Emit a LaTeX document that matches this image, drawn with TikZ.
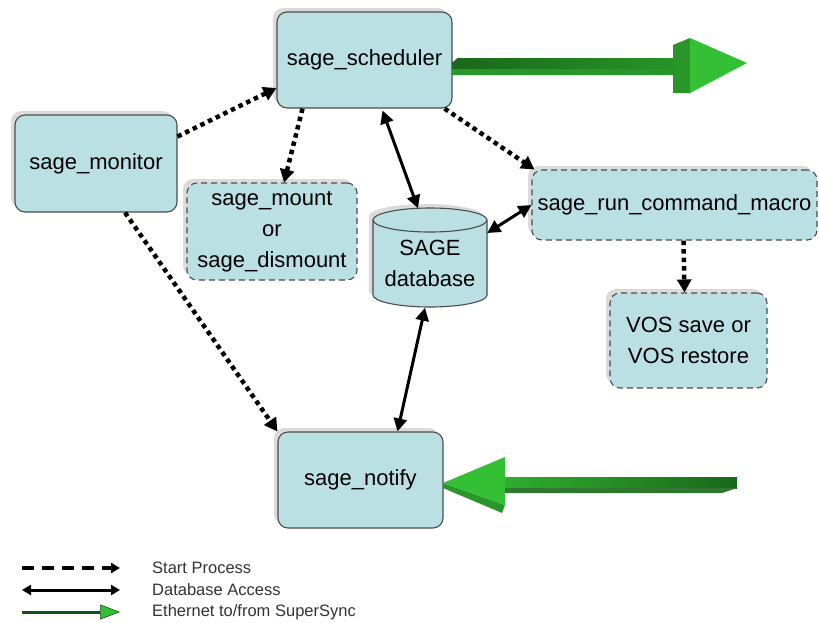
\documentclass[tikz,border=0pt]{standalone}
\usepackage{fontspec}
\setmainfont{Liberation Sans}
\usetikzlibrary{arrows.meta,shadows}
\definecolor{boxfill}{RGB}{186,224,228}
\definecolor{netdark}{RGB}{26,104,26}
\definecolor{netmid}{RGB}{40,150,40}
\definecolor{netlight}{RGB}{52,192,52}
\tikzset{
	proc/.style={draw=black!70, line width=1.1pt, fill=boxfill, rounded corners=10pt, align=center, inner sep=0pt,
		font=\fontsize{22}{31}\selectfont, drop shadow={shadow xshift=-4pt, shadow yshift=4pt, fill=black!14, opacity=1}},
	procdash/.style={proc, dash pattern=on 6pt off 4pt},
	startarrow/.style={line width=4.5pt, dash pattern=on 4.5pt off 4pt, -{Triangle[length=13pt,width=14pt]}},
	dbarrow/.style={line width=3pt, {Triangle[length=13pt,width=13pt]}-{Triangle[length=13pt,width=13pt]}},
	legendtext/.style={anchor=west, inner sep=0pt, font=\fontsize{16.5}{18}\selectfont, text=black!80}
}

\begin{document}
\begin{tikzpicture}[x=1pt, y=-1pt]
		%%%%% START %%%%%
		\useasboundingbox (0,0) rectangle (819,622);
		
		\node[proc, minimum width=162, minimum height=97] (monitor) at (96,163.5) {sage\_monitor};
		\node[proc, minimum width=175, minimum height=96] (scheduler) at (364.5,60) {sage\_scheduler};
		\node[procdash, minimum width=170, minimum height=97] (mount) at (272,231.5) {sage\_mount\\or\\sage\_dismount};
		\node[procdash, minimum width=285, minimum height=70] (run) at (674.5,205) {sage\_run\_command\_macro};
		\node[procdash, minimum width=157, minimum height=95] (vos) at (688.5,340.5) {VOS save or\\VOS restore};
		\node[proc, minimum width=165, minimum height=96] (notify) at (360.5,480) {sage\_notify};
		
		% database cylinder
		\fill[black!14] (369,216) -- (369,291) arc[start angle=180, end angle=360, x radius=57pt, y radius=12pt] -- (483,216) arc[start angle=0, end angle=180, x radius=57pt, y radius=12pt] -- cycle;
		\fill[boxfill] (373,220) -- (373,295) arc[start angle=180, end angle=360, x radius=57pt, y radius=12pt] -- (487,220) arc[start angle=0, end angle=180, x radius=57pt, y radius=12pt] -- cycle;
		\draw[black!70, line width=1.1pt] (373,220) -- (373,295) arc[start angle=180, end angle=360, x radius=57pt, y radius=12pt] -- (487,220);
		\draw[black!70, line width=1.1pt] (430,220) ellipse[x radius=57pt, y radius=12pt];
		\node[align=center, minimum width=114, minimum height=99, inner sep=0pt, font=\fontsize{22}{31}\selectfont] (db) at (430,263) {SAGE\\database};
		
		% start process
		\draw[startarrow] ([yshift=27pt]monitor.east) -- ([yshift=-28pt]scheduler.west);
		\draw[startarrow] ([xshift=-62pt]scheduler.south) -- ([xshift=12pt]mount.north);
		\draw[startarrow] ([xshift=-8pt]scheduler.south east) -- ([xshift=3pt]run.north west);
		\draw[startarrow] ([xshift=29pt]monitor.south) -- (notify.north west);
		\draw[startarrow] ([xshift=9pt]run.south) -- ([xshift=-4pt]vos.north);
		
		% database access
		\draw[dbarrow] ([xshift=18pt,yshift=-2pt]scheduler.south) -- ([xshift=-12pt,yshift=5pt]db.north);
		\draw[dbarrow] ([yshift=30pt]db.east) -- (run.west);
		\draw[dbarrow] ([xshift=-5pt,yshift=5pt]db.south) -- ([xshift=37pt]notify.north);
		
		% ethernet out
		\fill[left color=netdark, right color=netmid] (452,63) -- (458,58) -- (690,58) -- (690,69) -- (452,69) -- cycle;
		\fill[netmid] (452,69) -- (690,69) -- (682,75) -- (452,75) -- cycle;
		\fill[netmid] (673,45) -- (690,38) -- (690,93) -- (673,93) -- cycle;
		\fill[netlight] (690,38) -- (747,63) -- (690,93) -- cycle;
		
		% ethernet in
		\fill[left color=netlight!90!black, right color=netdark] (505,477) -- (737,477) -- (737,488) -- (505,488) -- cycle;
		\fill[netdark!90] (505,488) -- (737,488) -- (722,493) -- (505,493) -- cycle;
		\fill[netmid] (443,483) -- (505,505) -- (502,513) -- (443,488) -- cycle;
		\fill[netlight] (443,483) -- (505,457) -- (505,505) -- cycle;
		
		% legend
		\coordinate (sp1) at (22,568); \coordinate (sp2) at (120,568);
		\coordinate (da1) at (22,590); \coordinate (da2) at (120,590);
		\coordinate (et1) at (22,612); \coordinate (et2) at (120,612);
		\draw[line width=3.5pt, dash pattern=on 12pt off 8pt, -{Triangle[length=9pt,width=10pt]}] (sp1) -- (sp2);
		\draw[line width=3pt, {Triangle[length=9pt,width=10pt]}-{Triangle[length=9pt,width=10pt]}] (da1) -- (da2);
		\draw[line width=3pt, netdark!80!black, -{Triangle[length=20pt,width=15pt,fill=netlight,line width=0.6pt]}] (et1) -- (et2);
		\node[legendtext] (sptext) at (152,568) {Start Process};
		\node[legendtext] (datext) at (152,590) {Database Access};
		\node[legendtext] (ettext) at (152,612) {Ethernet to/from SuperSync};
		
		%%%%% END %%%%%
	\end{tikzpicture}
\end{document}
